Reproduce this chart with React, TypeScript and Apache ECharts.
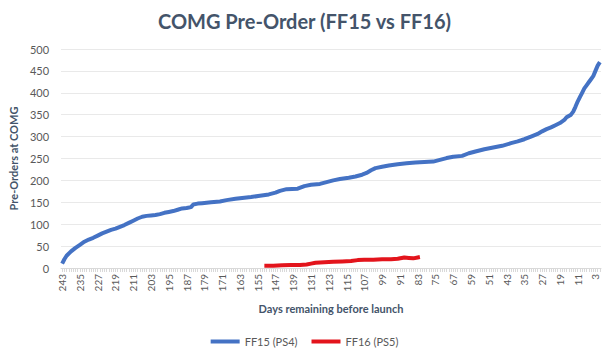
import React, { useEffect, useRef } from "react";
import * as echarts from "echarts";

const FIRST_DAY = 243;
const LAST_DAY = 1;
const categories: string[] = Array.from({ length: FIRST_DAY - LAST_DAY + 1 }, (_, i) => String(FIRST_DAY - i));

const blueDays = [243, 242, 241, 239, 237, 235, 233, 231, 229, 227, 225, 223, 221, 219, 217, 215, 213, 211, 209, 207, 205, 203, 201, 199, 197, 195, 193, 191, 189, 187, 185, 184, 182, 180, 176, 172, 169, 165, 162, 158, 154, 150, 147, 145, 142, 137, 134, 131, 127, 124, 121, 118, 114, 111, 108, 106, 104, 102, 99, 96, 92, 88, 84, 80, 76, 73, 70, 67, 63, 60, 57, 53, 49, 45, 41, 38, 35, 32, 29, 27, 25, 23, 21, 19, 17, 16, 14, 13, 12, 11, 10, 9, 8, 7, 6, 5, 4, 3, 2, 1];
const blueValues = [10, 20, 28, 38, 46, 53, 60, 65, 69, 74, 79, 83, 87, 90, 94, 98, 103, 108, 113, 117, 119, 120, 121, 123, 126, 128, 130, 133, 136, 137, 139, 145, 147, 148, 150, 152, 155, 158, 160, 162, 165, 168, 172, 176, 180, 181, 187, 190, 192, 196, 200, 203, 206, 209, 213, 217, 223, 228, 231, 234, 237, 239, 241, 242, 243, 247, 251, 254, 256, 262, 266, 271, 275, 279, 285, 289, 294, 300, 306, 312, 317, 321, 326, 331, 338, 344, 350, 357, 368, 380, 390, 400, 410, 417, 424, 431, 438, 450, 462, 470];

const redDays = [152, 148, 144, 140, 136, 133, 131, 129, 125, 121, 117, 113, 110, 107, 103, 99, 95, 92, 89, 87, 85, 83, 82];
const redValues = [5, 5, 6, 7, 7, 8, 10, 12, 13, 14, 15, 16, 18, 19, 19, 20, 20, 21, 24, 23, 22, 24, 25];

const yTicks = { min: 0, max: 500, interval: 50 };

const toPairs = (days: number[], vals: number[]) => days.map((d, i) => [categories.indexOf(String(d)), vals[i]]);

export default function App() {
  const ref = useRef<HTMLDivElement>(null);
  useEffect(() => {
    if (!ref.current) return;
    const chart = echarts.init(ref.current, undefined, { renderer: "svg" });
    const font = "Lato, 'Noto Sans', sans-serif";
    chart.setOption({
      animation: false,
      backgroundColor: "#ffffff",
      textStyle: { fontFamily: font },
      title: {
        text: "COMG Pre-Order (FF15 vs FF16)",
        left: "center",
        top: 6,
        textStyle: { fontFamily: font, fontSize: 20, fontWeight: "bold", color: "#44546a" },
      },
      grid: { left: 57, right: 8, top: 49, bottom: 88 },
      legend: {
        bottom: 4,
        left: "center",
        icon: "rect",
        itemWidth: 29,
        itemHeight: 4,
        itemGap: 14,
        textStyle: { fontFamily: font, fontSize: 11, color: "#595959" },
        data: ["FF15 (PS4)", "FF16 (PS5)"],
      },
      xAxis: {
        type: "category",
        data: categories,
        boundaryGap: true,
        name: "Days remaining before launch",
        nameLocation: "middle",
        nameGap: 35,
        nameTextStyle: { fontFamily: font, fontSize: 11, fontWeight: "bold", color: "#44546a" },
        axisLine: { lineStyle: { color: "#d9d9d9" } },
        axisTick: { show: true, interval: 0, length: 4, alignWithLabel: true, lineStyle: { color: "#d9d9d9" } },
        axisLabel: { interval: 7, rotate: 90, fontSize: 10, color: "#595959", margin: 6, fontFamily: font },
        splitLine: { show: false },
      },
      yAxis: {
        type: "value",
        min: yTicks.min,
        max: yTicks.max,
        interval: yTicks.interval,
        name: "Pre-Orders at COMG",
        nameLocation: "middle",
        nameGap: 38,
        nameTextStyle: { fontFamily: font, fontSize: 11, fontWeight: "bold", color: "#44546a" },
        axisLine: { show: false },
        axisTick: { show: false },
        axisLabel: { fontSize: 11, color: "#595959", margin: 12, fontFamily: font },
        splitLine: { lineStyle: { color: "#e9e9e9" } },
      },
      series: [
        {
          name: "FF15 (PS4)",
          type: "line",
          data: toPairs(blueDays, blueValues),
          showSymbol: false,
          symbol: "none",
          lineStyle: { color: "#4472c4", width: 4 },
          itemStyle: { color: "#4472c4" },
        },
        {
          name: "FF16 (PS5)",
          type: "line",
          data: toPairs(redDays, redValues),
          showSymbol: false,
          symbol: "none",
          lineStyle: { color: "#e3141c", width: 4 },
          itemStyle: { color: "#e3141c" },
        },
      ],
    });
    return () => chart.dispose();
  }, []);
  return <div ref={ref} style={{ position: "fixed", left: 0, top: 0, width: 609, height: 356 }} />;
}
